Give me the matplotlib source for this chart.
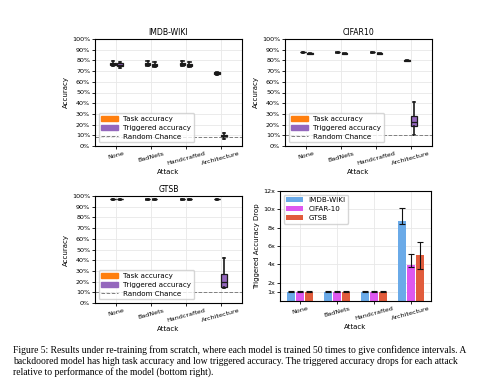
import numpy as np
import matplotlib
matplotlib.use("Agg")
from matplotlib import pyplot as plt
from matplotlib.patches import Patch
from matplotlib.lines import Line2D
from matplotlib.ticker import FuncFormatter

attacks = ["None", "BadNets", "Handcrafted", "Architecture"]

# box stats per attack: (whislo, q1, med, q3, whishi) in percent
imdb_task = [(74.5, 76, 77, 78, 79), (74.5, 76, 77, 78, 79), (74.5, 76, 77, 78, 79), (66.5, 67.3, 68, 68.7, 69.5)]
imdb_trig = [(73, 74.5, 76, 77.3, 78.5), (73.5, 75, 76, 77, 78.5), (73.5, 75, 76, 77, 78.5), (7, 8, 9, 10, 12)]
imdb_chance = 8.3

cifar_task = [(87.2, 87.4, 87.5, 87.7, 87.8), (87.2, 87.4, 87.5, 87.7, 87.8), (87.2, 87.4, 87.5, 87.7, 87.8), (79.6, 79.8, 80, 80.2, 80.4)]
cifar_trig = [(86.1, 86.3, 86.5, 86.7, 86.9), (85.9, 86.2, 86.5, 86.8, 87.1), (86.1, 86.3, 86.5, 86.7, 86.9), (10, 19, 22.5, 28, 41)]
cifar_chance = 10

gtsb_task = [(96.4, 96.8, 97, 97.2, 97.6), (96.4, 96.8, 97, 97.2, 97.6), (96.4, 96.8, 97, 97.2, 97.6), (96.4, 96.8, 97, 97.2, 97.6)]
gtsb_trig = [(96.4, 96.8, 97, 97.2, 97.6), (96.4, 96.8, 97, 97.2, 97.6), (96.4, 96.8, 97, 97.2, 97.6), (14, 14.5, 20, 27, 42)]
gtsb_chance = 10

# triggered accuracy drop (bottom right)
datasets = ["IMDB-WIKI", "CIFAR-10", "GTSB"]
drop_mean = [[1.0, 1.0, 1.0, 8.72], [1.0, 1.0, 1.0, 3.93], [1.0, 1.0, 1.0, 5.02]]
drop_low = [[1.0, 1.0, 1.0, 8.4], [1.0, 1.0, 1.0, 3.67], [1.0, 1.0, 1.0, 3.49]]
drop_high = [[1.05, 1.05, 1.04, 10.2], [1.05, 1.05, 1.04, 5.09], [1.04, 1.04, 1.04, 6.47]]
bar_colors = ["#6aaae8", "#de58ef", "#e15c3c"]

caption = [
    "Figure 5: Results under re-training from scratch, where each model is trained 50 times to give confidence intervals. A",
    "backdoored model has high task accuracy and low triggered accuracy. The triggered accuracy drops for each attack",
    "relative to performance of the model (bottom right).",
]

W, H = 482, 385
fig = plt.figure(figsize=(W / 100, H / 100), dpi=100)


def px_axes(left, top, right, bottom):
    return fig.add_axes([left / W, 1 - bottom / H, (right - left) / W, (bottom - top) / H])


def stats(rows):
    out = []
    for lo, q1, med, q3, hi in rows:
        out.append(dict(whislo=lo, q1=q1, med=med, q3=q3, whishi=hi, fliers=[]))
    return out


def box_panel(ax, title, task, trig, chance):
    x = np.arange(len(attacks))
    for data, off, col in [(task, -0.1, "tab:orange"), (trig, 0.1, "tab:purple")]:
        ax.bxp(stats(data), positions=x + off, widths=0.15, patch_artist=True,
               boxprops=dict(facecolor=col, edgecolor="#1a1a1a", linewidth=0.9),
               medianprops=dict(color="#1a1a1a", linewidth=0.9),
               whiskerprops=dict(color="#1a1a1a", linewidth=1.2),
               capprops=dict(color="#1a1a1a", linewidth=1.2), manage_ticks=False)
    ax.axhline(chance, color="gray", ls="--", lw=0.7)
    ax.set_xlim(-0.62, 3.62)
    ax.set_ylim(0, 100)
    ax.set_yticks(np.arange(0, 101, 10))
    ax.yaxis.set_major_formatter(FuncFormatter(lambda v, p: "%d%%" % v))
    ax.set_xticks(x)
    ax.set_xticklabels(attacks, rotation=15)
    ax.grid(True, color="#e8e8e8", lw=0.6)
    ax.set_axisbelow(True)
    ax.set_title(title, fontsize=5.6, pad=3)
    ax.set_xlabel("Attack", fontsize=5, labelpad=2)
    ax.set_ylabel("Accuracy", fontsize=5, labelpad=2)
    ax.tick_params(labelsize=4.6, length=2, pad=1.5, width=0.6)
    handles = [Patch(color="tab:orange", label="Task accuracy"),
               Patch(color="tab:purple", label="Triggered accuracy"),
               Line2D([], [], color="gray", ls="--", lw=0.7, label="Random Chance")]
    ax.legend(handles=handles, loc="lower left", fontsize=5.1, handlelength=2.3,
              borderpad=0.4, labelspacing=0.4)
    for s in ax.spines.values():
        s.set_linewidth(0.8)


ax1 = px_axes(95, 39, 242, 146)
box_panel(ax1, "IMDB-WIKI", imdb_task, imdb_trig, imdb_chance)
ax2 = px_axes(285, 39, 432, 146)
box_panel(ax2, "CIFAR10", cifar_task, cifar_trig, cifar_chance)
ax3 = px_axes(95, 196, 242, 303)
box_panel(ax3, "GTSB", gtsb_task, gtsb_trig, gtsb_chance)

# bar chart
ax4 = px_axes(280, 191, 431, 301)
x = np.arange(len(attacks))
for i, name in enumerate(datasets):
    m = np.array(drop_mean[i])
    err = [m - np.array(drop_low[i]), np.array(drop_high[i]) - m]
    ax4.bar(x + (i - 1) * 0.25, m, width=0.22, color=bar_colors[i], label=name,
            yerr=err, capsize=2.5, error_kw=dict(ecolor="#111111", elinewidth=0.8, capthick=0.8))
ax4.set_xlim(-0.54, 3.54)
ax4.set_ylim(0, 12)
ax4.set_yticks([1, 2, 4, 6, 8, 10, 12])
ax4.yaxis.set_major_formatter(FuncFormatter(lambda v, p: "%dx" % v))
ax4.set_xticks(x)
ax4.set_xticklabels(attacks, rotation=15)
ax4.grid(True, color="#e8e8e8", lw=0.6)
ax4.set_axisbelow(True)
ax4.set_xlabel("Attack", fontsize=5, labelpad=2)
ax4.set_ylabel("Triggered Accuracy Drop", fontsize=5, labelpad=2)
ax4.tick_params(labelsize=4.6, length=2, pad=1.5, width=0.6)
ax4.legend(loc="upper left", fontsize=5.1, handlelength=2.3, borderpad=0.4, labelspacing=0.4)
for s in ax4.spines.values():
    s.set_linewidth(0.8)

for k, line in enumerate(caption):
    fig.text(13 / W, 1 - (350 + 11 * k) / H, line, fontsize=6.95, family="Liberation Serif", va="center")

fig.savefig("out.png", dpi=100)
